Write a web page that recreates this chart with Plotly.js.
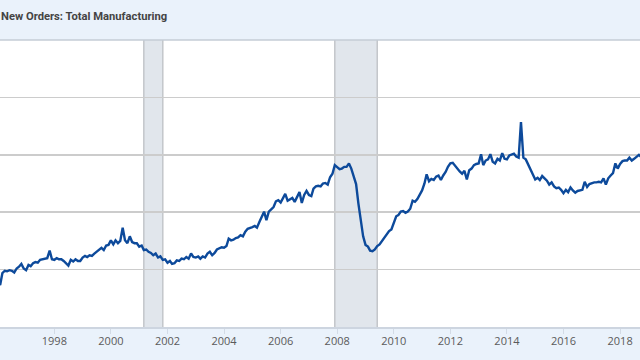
<!DOCTYPE html>
<html>
<head>
<meta charset="utf-8">
<script src="https://cdn.plot.ly/plotly-3.0.1.min.js"></script>
<style>
  html, body { margin: 0; padding: 0; background: #eaf2fb; }
  #chart { width: 640px; height: 360px; }
</style>
</head>
<body>
<div id="chart"></div>
<script>
// Manufacturers' New Orders: Total Manufacturing (billions of dollars, monthly)
const v1996_1999 = [
  285, 273, 294, 298, 297, 299, 298, 295, 302, 305, 310, 302,
  299, 308, 306, 311, 313, 312, 317, 318, 318, 320, 333, 318,
  317, 320, 318, 318, 315, 310, 307, 317, 314, 318, 315, 315,
  321, 324, 322, 325, 324, 328, 331, 334, 338, 334, 342, 343
];
const v2000_2003 = [
  351, 344, 351, 346, 350, 373, 351, 346, 358, 348, 346, 346,
  340, 342, 334, 335, 331, 329, 325, 328, 321, 323, 317, 318,
  312, 315, 310, 311, 316, 315, 319, 318, 322, 319, 328, 322,
  321, 323, 319, 323, 321, 328, 331, 325, 329, 335, 337, 339
];
const v2004_2007 = [
  338, 341, 354, 351, 352, 355, 356, 360, 358, 366, 371, 372,
  374, 376, 373, 383, 392, 401, 386, 401, 405, 409, 419, 421,
  417, 424, 432, 420, 422, 425, 418, 428, 435, 416, 430, 437,
  430, 428, 441, 445, 446, 445, 450, 451, 448, 461, 467, 482
];
const v2008_2011 = [
  479, 475, 476, 479, 479, 485, 476, 463, 449, 415, 383, 358,
  343, 340, 333, 332, 335, 341, 344, 350, 356, 361, 367, 370,
  383, 393, 395, 401, 402, 399, 401, 406, 420, 418, 423, 430,
  438, 450, 466, 454, 458, 456, 462, 464, 456, 464, 470, 479
];
const v2012_2015 = [
  485, 486, 481, 475, 471, 467, 472, 457, 473, 476, 482, 484,
  485, 501, 482, 490, 492, 501, 488, 485, 493, 490, 503, 493,
  492, 499, 500, 502, 497, 495, 557, 495, 492, 484, 474, 468,
  457, 460, 456, 463, 459, 455, 448, 452, 445, 442, 443, 439
];
const v2016_2018 = [
  433, 439, 435, 443, 438, 434, 437, 438, 439, 453, 444, 449,
  451, 452, 452, 453, 452, 459, 448, 459, 464, 468, 485, 476,
  484, 489, 490, 490, 495, 490, 493, 496, 500, 496
];
const recessionStarts = ['2001-03-01', '2007-12-01'];
const recessionEnds   = ['2001-11-01', '2009-06-01'];
const tickYears = ['1996','1998','2000','2002','2004','2006','2008','2010','2012','2014','2016','2018'];
const titleText = 'New Orders: Total Manufacturing';

const values = [].concat(v1996_1999, v2000_2003, v2004_2007, v2008_2011, v2012_2015, v2016_2018);
const dates = values.map((_, i) => {
  const y = 1996 + Math.floor(i / 12);
  const m = (i % 12) + 1;
  return y + '-' + String(m).padStart(2, '0') + '-01';
});

const shapes = [];
recessionStarts.forEach((s, i) => {
  const e = recessionEnds[i];
  shapes.push({type: 'rect', xref: 'x', yref: 'paper', x0: s, x1: e, y0: 0, y1: 1,
    fillcolor: '#e1e6ec', line: {width: 0}, layer: 'below'});
  [s, e].forEach(d => shapes.push({type: 'line', xref: 'x', yref: 'paper', x0: d, x1: d, y0: 0, y1: 1,
    line: {color: '#c3c6ca', width: 1.5}, layer: 'below'}));
});
shapes.push({type: 'line', xref: 'paper', yref: 'paper', x0: 0, x1: 1, y0: 1, y1: 1,
  line: {color: '#c5ccd6', width: 1.5}});

const trace = {
  x: dates, y: values, type: 'scatter', mode: 'lines',
  line: {color: '#0d4a9b', width: 2.4},
  hoverinfo: 'skip'
};

const layout = {
  width: 640, height: 360,
  margin: {l: 0, r: 0, t: 40, b: 33, pad: 0},
  paper_bgcolor: '#eaf2fb',
  plot_bgcolor: '#ffffff',
  showlegend: false,
  title: {
    text: titleText,
    font: {family: 'Roboto, Arial, sans-serif', size: 11.2, color: '#444444', weight: 'bold'},
    xref: 'container', yref: 'container',
    x: 1 / 640, xanchor: 'left',
    y: 1 - 16 / 360, yanchor: 'middle',
    automargin: false
  },
  xaxis: {
    type: 'date',
    range: ['1996-01-30', '2018-09-15'],
    tickvals: tickYears.map(y => y + '-01-01'),
    ticktext: tickYears,
    ticks: 'outside', ticklen: 5, tickcolor: '#d3dbe6', tickwidth: 1,
    ticklabelstandoff: -2,
    showgrid: false, zeroline: false,
    showline: true, linecolor: '#cdd5e0', linewidth: 1.5,
    tickfont: {family: 'Open Sans, sans-serif', size: 11, color: '#5a5a5a'},
    fixedrange: true
  },
  yaxis: {
    range: [200, 700],
    tick0: 0, dtick: 100,
    showticklabels: false,
    showgrid: true, gridcolor: '#cccccc', gridwidth: 1.5,
    zeroline: false, showline: false, ticks: '',
    fixedrange: true
  },
  shapes: shapes
};

Plotly.newPlot('chart', [trace], layout, {displayModeBar: false, staticPlot: true});
</script>
</body>
</html>
